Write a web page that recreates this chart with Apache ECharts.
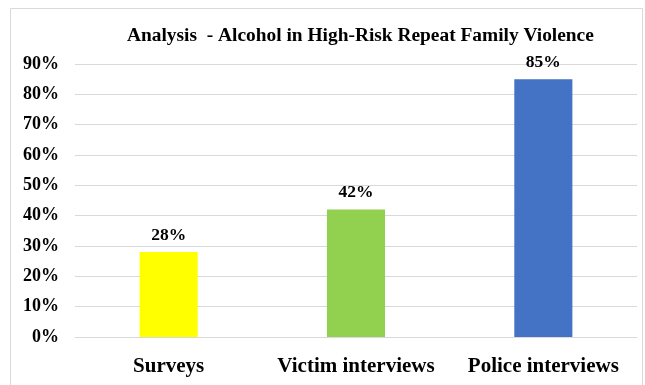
<!DOCTYPE html>
<html>
<head>
<meta charset="utf-8">
<script src="https://cdn.jsdelivr.net/npm/echarts@6/dist/echarts.min.js"></script>
<style>
html,body{margin:0;padding:0;background:#fff;}
#chart{width:645px;height:385px;}
</style>
</head>
<body>
<div id="chart"></div>
<script>
const titleText = "Analysis  - Alcohol in High-Risk Repeat Family Violence";
const categories = ["Surveys", "Victim interviews", "Police interviews"];
const values = [28, 42, 85];
const barColors = ["#FFFF00", "#92D050", "#4472C4"];

const chart = echarts.init(document.getElementById('chart'), null, {renderer: 'canvas'});
const font = "'Liberation Serif', 'Times New Roman', serif";
chart.setOption({
  animation: false,
  backgroundColor: '#fff',
  graphic: [{
    type: 'rect', left: 8, top: 6, silent: true,
    shape: {width: 632, height: 400},
    style: {fill: 'none', stroke: '#d9d9d9', lineWidth: 1}
  }],
  title: {
    text: titleText,
    left: 122, top: 21,
    textStyle: {fontFamily: font, fontWeight: 'bold', fontSize: 19.4, color: '#000'}
  },
  grid: {left: 75, right: 8, top: 64, bottom: 48, containLabel: false},
  xAxis: {
    type: 'category',
    data: categories,
    axisLine: {lineStyle: {color: '#d9d9d9', width: 1}},
    axisTick: {show: false},
    axisLabel: {interval: 0, hideOverlap: false, fontFamily: font, fontWeight: 'bold', fontSize: 21, color: '#000', margin: 19}
  },
  yAxis: {
    type: 'value',
    min: 0, max: 90, interval: 10,
    axisLine: {show: false},
    axisTick: {show: false},
    splitLine: {lineStyle: {color: '#d9d9d9', width: 1}},
    axisLabel: {fontFamily: font, fontWeight: 'bold', fontSize: 18, color: '#000', margin: 16,
      formatter: v => v + '%'}
  },
  series: [{
    type: 'bar',
    barWidth: '31%',
    data: values.map((v, i) => ({value: v, itemStyle: {color: barColors[i]}})),
    label: {show: true, position: 'top', distance: 8, fontFamily: font, fontWeight: 'bold',
      fontSize: 17.5, color: '#000', formatter: p => p.value + '%'}
  }]
});
</script>
</body>
</html>
